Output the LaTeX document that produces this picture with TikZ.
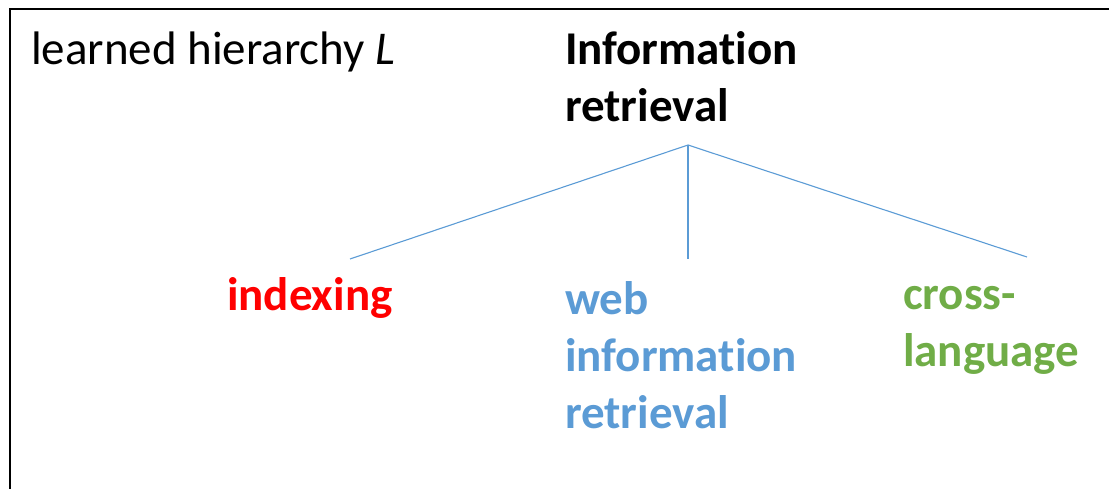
\documentclass[tikz,border=0pt]{standalone}
\usepackage{fontspec}
\setmainfont{Carlito}[Ligatures=NoCommon]
\definecolor{irblue}{HTML}{5B9BD5}
\definecolor{irgreen}{HTML}{70AD47}
\definecolor{irred}{HTML}{FF0000}
\begin{document}
\begin{tikzpicture}[x=1pt,y=-1pt,
  lbl/.style={inner sep=0pt, outer sep=0pt, anchor=base west, align=left,
              font=\fontsize{47}{57}\selectfont},
  term/.style={lbl, font=\fontsize{47}{57}\selectfont\bfseries},
  edge/.style={draw=irblue, line width=1.1pt}]
  \useasboundingbox (0,0) rectangle (1109,489);
  \clip (0,0) rectangle (1109,489);
  % frame (runs off the right and bottom)
  \draw[line width=2.4pt] (10,9) rectangle (1130,510);

  % labels (multi-line nodes are placed by the baseline of their last line)
  \node[lbl] (title) at (31,65) {learned hierarchy \textit{L}};
  \node[term] (ir) at (565,122) {Information\\retrieval};
  \node[term, text=irred] (idx) at (227,310) {indexing};
  \node[term, text=irblue] (web) at (565,428) {web\\information\\retrieval};
  \node[term, text=irgreen] (cl) at (903,366) {cross-\\language};

  % tree edges
  \coordinate (hub) at (688,145);
  \coordinate (idx-top) at (350,259);
  \coordinate (web-top) at (688,259);
  \coordinate (cl-top) at (1027,257);
  \draw[edge] (hub) -- (idx-top);
  \draw[edge] (hub) -- (web-top);
  \draw[edge] (hub) -- (cl-top);
\end{tikzpicture}
\end{document}
